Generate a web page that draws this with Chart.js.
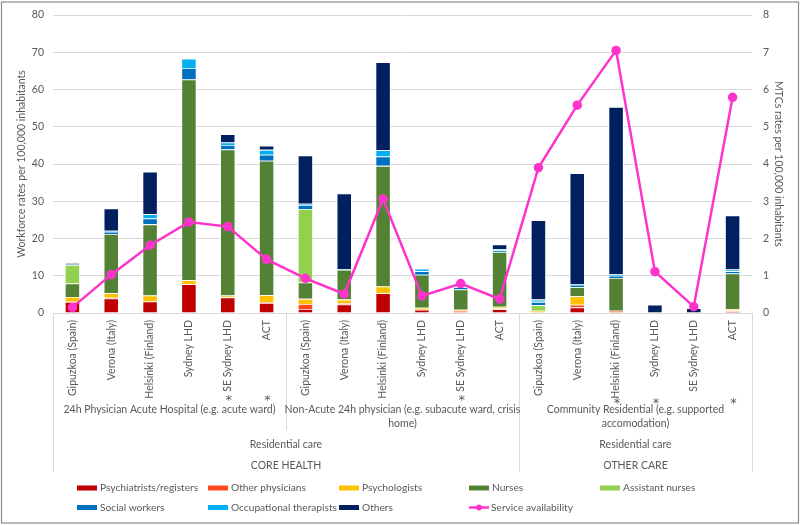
<!DOCTYPE html>
<html>
<head>
<meta charset="utf-8">
<script src="https://cdn.jsdelivr.net/npm/chart.js@4/dist/chart.umd.min.js"></script>
<style>
body { margin: 0; background: #fff; }
</style>
</head>
<body>
<canvas id="grafica" width="800" height="525"></canvas>
<script>
// categorias (eje x)
var lugares = ['Gipuzkoa (Spain)', 'Verona (Italy)', 'Helsinki (Finland)', 'Sydney LHD', 'SE Sydney LHD', 'ACT',
               'Gipuzkoa (Spain)', 'Verona (Italy)', 'Helsinki (Finland)', 'Sydney LHD', 'SE Sydney LHD', 'ACT',
               'Gipuzkoa (Spain)', 'Verona (Italy)', 'Helsinki (Finland)', 'Sydney LHD', 'SE Sydney LHD', 'ACT'];
var asteriscos = [0, 0, 0, 0, 1, 1, 0, 0, 0, 0, 1, 0, 0, 0, 1, 1, 0, 1];
var grupos = [
    ['24h Physician Acute Hospital (e.g. acute ward)'],
    ['Non-Acute 24h physician (e.g. subacute ward, crisis', 'home)'],
    ['Community Residential (e.g. supported', 'accomodation)']
];
var tipo_cuidado = ['Residential care', 'Residential care'];
var sector = ['CORE HEALTH', 'OTHER CARE'];

// series
var psiquiatras  = [3.0, 3.9, 3.1, 7.7, 4.2, 2.7, 1.1, 2.3, 5.3, 0.9, null, 1.0, null, 1.5, null, null, null, 0.4];
var otros_medicos = [null, 0.2, null, null, null, 0.1, 1.3, 0.3, null, null, 0.6, 0.2, null, 0.7, 0.6, null, null, 0.3];
var psicologos   = [1.3, 1.2, 1.6, 1.1, 0.5, 2.0, 1.4, 1.0, 1.8, 0.5, 0.3, 0.5, 0.6, 2.3, null, null, null, 0.4];
var enfermeros   = [3.6, 15.9, 19.1, 53.9, 39.2, 36.1, 4.4, 8.0, 32.4, 8.9, 5.4, 14.7, null, 2.4, 8.8, null, null, 9.5];
var auxiliares   = [5.0, null, null, null, null, null, 19.7, null, null, null, null, null, 1.5, null, null, null, null, null];
var trabajo_social = [0.2, 0.6, 1.6, 3.1, 1.2, 1.6, 1.1, 0.2, 2.5, 0.9, 0.6, 0.4, 0.9, 0.7, 0.6, null, null, 0.6];
var terapeutas   = [null, 0.3, 1.1, 2.5, 0.7, 1.3, 0.3, null, 1.7, 0.7, 0.3, 0.4, 0.6, 0.2, 0.5, null, null, 0.5];
var otros        = [0.3, 6.0, 11.4, null, 2.2, 1.1, 13.0, 20.3, 23.6, null, null, 1.2, 21.3, 29.7, 44.8, 2.2, 1.3, 14.5];
var disponibilidad = [0.15, 1.03, 1.82, 2.44, 2.32, 1.44, 0.93, 0.51, 3.06, 0.46, 0.79, 0.375, 3.9, 5.58, 7.05, 1.11, 0.17, 5.79];

var fuente = 'Lato, sans-serif';
var tam = 10.5;
var gris = '#595959';

function barra(label, data, color) {
    return {
        type: 'bar', label: label, data: data, backgroundColor: color,
        borderColor: '#ffffff', borderWidth: 0.8, yAxisID: 'y', order: 2,
        categoryPercentage: 1, barPercentage: 0.39
    };
}

function sinPadding(s) {
    s.paddingTop = 0;
    s.paddingBottom = 0;
}

var extras = {
    id: 'extras',
    beforeDraw: function (chart) {
        var ctx = chart.ctx;
        ctx.save();
        ctx.fillStyle = '#fff';
        ctx.fillRect(0, 0, chart.width, chart.height);
        ctx.restore();
    },
    afterDraw: function (chart) {
        var ctx = chart.ctx;
        var x = chart.scales.x;
        var area = chart.chartArea;
        var paso = x.getPixelForValue(1) - x.getPixelForValue(0);
        var borde = function (i) { return x.getPixelForValue(i) - paso / 2; };
        ctx.save();
        // lineas separadoras
        ctx.strokeStyle = '#D9D9D9';
        ctx.lineWidth = 1;
        var lineas = [[borde(0), 472], [borde(6), 430], [borde(12), 472], [borde(18), 472]];
        lineas.forEach(function (l) {
            var px = Math.round(l[0]) + 0.5;
            ctx.beginPath(); ctx.moveTo(px, area.bottom); ctx.lineTo(px, l[1]); ctx.stroke();
        });
        ctx.fillStyle = gris;
        ctx.textAlign = 'center';
        ctx.textBaseline = 'middle';
        // asteriscos
        ctx.font = '13px "DejaVu Sans", sans-serif';
        asteriscos.forEach(function (a, i) {
            if (a) ctx.fillText('*', x.getPixelForValue(i) + 1, i >= 12 ? 404 : 401);
        });
        ctx.font = tam + 'px ' + fuente;
        grupos.forEach(function (g, k) {
            var cx = (borde(k * 6) + borde(k * 6 + 6)) / 2;
            g.forEach(function (t, j) { ctx.fillText(t, cx, 410 + j * 14); });
        });
        var c1 = (borde(0) + borde(12)) / 2, c2 = (borde(12) + borde(18)) / 2;
        ctx.fillText(tipo_cuidado[0], c1, 445);
        ctx.fillText(tipo_cuidado[1], c2, 445);
        ctx.fillText(sector[0], c1, 466);
        ctx.fillText(sector[1], c2, 466);

        // leyenda
        ctx.textAlign = 'left';
        ctx.font = '10.2px ' + fuente;
        var cols = [77, 208, 339, 469, 600];
        chart.data.datasets.forEach(function (ds, i) {
            var fila = i < 5 ? 0 : 1;
            var col = i < 5 ? i : i - 5;
            var lx = cols[col], ly = 488 + fila * 19.5;
            if (ds.type === 'line') {
                ctx.strokeStyle = ds.borderColor; ctx.lineWidth = 2.5;
                ctx.beginPath(); ctx.moveTo(lx, ly); ctx.lineTo(lx + 20, ly); ctx.stroke();
                ctx.fillStyle = ds.borderColor;
                ctx.beginPath(); ctx.arc(lx + 10, ly, 3, 0, Math.PI * 2); ctx.fill();
                ctx.fillStyle = gris; ctx.fillText(ds.label, lx + 22, ly);
            } else {
                ctx.fillStyle = ds.backgroundColor;
                ctx.fillRect(lx, ly - 2.5, 20, 5);
                ctx.fillStyle = gris; ctx.fillText(ds.label, lx + 23, ly);
            }
        });
        // marco
        ctx.strokeStyle = '#8C8C8C';
        ctx.lineWidth = 1.2;
        ctx.strokeRect(1.5, 2, chart.width - 3, chart.height - 4);
        ctx.restore();
    }
};

var ctx = document.getElementById('grafica');
var chart = new Chart(ctx, {
    data: {
        labels: lugares,
        datasets: [
            barra('Psychiatrists/registers', psiquiatras, '#C00000'),
            barra('Other physicians', otros_medicos, '#FF4A1C'),
            barra('Psychologists', psicologos, '#FFC000'),
            barra('Nurses', enfermeros, '#548235'),
            barra('Assistant nurses', auxiliares, '#92D050'),
            barra('Social workers', trabajo_social, '#0070C0'),
            barra('Occupational therapists', terapeutas, '#00B0F0'),
            barra('Others', otros, '#002060'),
            {
                type: 'line', label: 'Service availability', data: disponibilidad, yAxisID: 'y1', order: 1,
                borderColor: '#FF33CC', backgroundColor: '#FF33CC', borderWidth: 2.5,
                pointRadius: 3.5, pointHoverRadius: 3.5, tension: 0
            }
        ]
    },
    options: {
        responsive: false,
        animation: false,
        devicePixelRatio: 1,
        layout: { padding: { top: 15, bottom: 52, left: 0, right: 0 } },
        plugins: { legend: { display: false }, tooltip: { enabled: false } },
        scales: {
            x: {
                stacked: true,
                grid: { display: false, drawTicks: false },
                border: { display: true, color: '#D9D9D9' },
                ticks: { autoSkip: false, maxRotation: 90, minRotation: 90, padding: 7, color: gris, font: { family: fuente, size: tam } },
                afterFit: function (s) { s.height = 160; s.paddingLeft = 0; s.paddingRight = 0; }
            },
            y: {
                stacked: true, position: 'left', min: 0, max: 80,
                grid: { color: '#D9D9D9', drawTicks: false },
                border: { display: false },
                ticks: { stepSize: 10, padding: 9, color: gris, font: { family: fuente, size: tam } },
                title: { display: true, text: 'Workforce rates per 100,000 inhabitants', color: gris, padding: { top: 15, bottom: 0 }, font: { family: fuente, size: tam } },
                afterFit: function (s) { s.width = 53; sinPadding(s); }
            },
            y1: {
                position: 'right', min: 0, max: 8,
                grid: { display: false, drawTicks: false },
                border: { display: false },
                ticks: { stepSize: 1, padding: 11, color: gris, font: { family: fuente, size: tam } },
                title: { display: true, text: 'MTCs rates per 100,000 inhabitants', color: gris, padding: { top: 15, bottom: 0 }, font: { family: fuente, size: tam } },
                afterFit: function (s) { s.width = 48; sinPadding(s); }
            }
        }
    },
    plugins: [extras]
});
</script>
</body>
</html>
